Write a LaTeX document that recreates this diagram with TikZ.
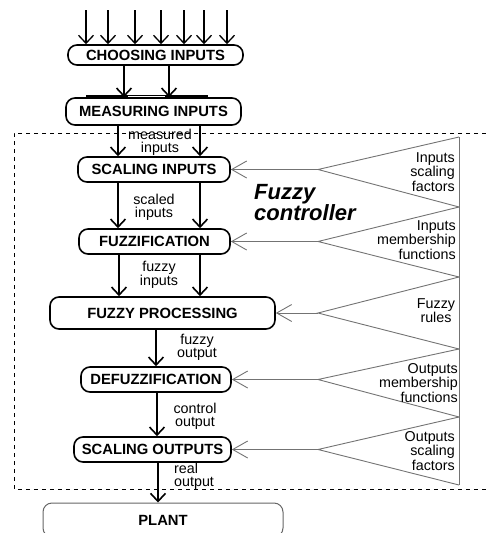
\documentclass[tikz,border=0pt]{standalone}
\usepackage{fontspec}
\setmainfont{Liberation Sans}
\usetikzlibrary{arrows.meta}

\tikzset{
  block/.style = {draw, line width=1.6pt, rounded corners=9pt, inner sep=0pt,
    font=\fontsize{14.8}{16}\selectfont\bfseries},
  flow/.style = {line width=1.6pt, -{Straight Barb[length=8pt,width=15pt]}},
  feed/.style = {draw=black!55, line width=0.9pt, -{Straight Barb[length=15pt,width=17pt]}},
  fan/.style = {draw=black!55, line width=0.9pt},
  note/.style = {align=center, inner sep=0pt, font=\fontsize{14.3}{13}\selectfont}
}

\begin{document}
\begin{tikzpicture}[x=1pt, y=-1pt]
  \useasboundingbox (0,0) rectangle (486,533);
  \clip (0,0) rectangle (486,533);

  \node [block, minimum width=175pt, minimum height=20pt] (choose)   at (155.5,55)  {CHOOSING INPUTS};
  \node [block, minimum width=175pt, minimum height=27pt] (measure)  at (153.5,111.5) {MEASURING INPUTS};
  \node [block, minimum width=152pt, minimum height=25pt] (scalein)  at (154,169.5) {SCALING INPUTS};
  \node [block, minimum width=151pt, minimum height=25pt] (fuzzif)   at (154.5,241.5) {FUZZIFICATION};
  \node [block, minimum width=225pt, minimum height=32pt] (process)  at (162.5,313) {FUZZY PROCESSING};
  \node [block, minimum width=150pt, minimum height=25pt] (defuzz)   at (156,379.5) {DEFUZZIFICATION};
  \node [block, minimum width=157pt, minimum height=25pt] (scaleout) at (152.5,449.5) {SCALING OUTPUTS};
  \node [block, draw=black!60, line width=1pt, minimum width=240pt, minimum height=34pt] (plant) at (163,520) {PLANT};

  \foreach \x in {86,108,135,161,184,204,227} {
    \coordinate (in\x) at (\x,10);
    \draw [flow, line width=1.3pt] (in\x) -- (choose.north -| \x,0);
  }

  \draw [flow] (choose.south -| 124,0) -- (measure.north -| 124,0);
  \draw [flow] (choose.south -| 169,0) -- (measure.north -| 169,0);
  \draw [line width=3pt] (86,96.5) -- (208,96.5);
  \draw [white, line width=1pt] (128,96.5) -- (165,96.5);

  \draw [flow] (measure.south -| 118,0) -- (scalein.north -| 118,0);
  \draw [flow] (measure.south -| 200,0) -- (scalein.north -| 200,0);
  \draw [flow] (scalein.south -| 118,0) -- (fuzzif.north -| 118,0);
  \draw [flow] (scalein.south -| 200,0) -- (fuzzif.north -| 200,0);
  \draw [flow] (fuzzif.south -| 119,0) -- (process.north -| 119,0);
  \draw [flow] (fuzzif.south -| 200,0) -- (process.north -| 200,0);
  \draw [flow] (process.south -| 156,0) -- (defuzz.north -| 156,0);
  \draw [flow] (defuzz.south -| 157,0) -- (scaleout.north -| 157,0);
  \draw [flow] (scaleout.south -| 158,0) -- (plant.north -| 158,0);

  \node [note] (lmeasured) at (160,142.5) {measured\\inputs};
  \node [note] (lscaled) at (154,207) {scaled\\inputs};
  \node [note] (lfuzzyin) at (159,275) {fuzzy\\inputs};
  \node [note] (lfuzzyout) at (197,347.5) {fuzzy\\output};
  \node [note] (lcontrol) at (195,416) {control\\output};
  \node [note, align=left, anchor=west] (lreal) at (174,476) {real\\output};

  \node [align=left, anchor=west, inner sep=0pt,
    font=\fontsize{22}{21}\selectfont\bfseries\itshape] (ctrl) at (254,203) {Fuzzy\\controller};

  \coordinate (b0) at (459,137);
  \coordinate (b1) at (459,207);
  \coordinate (b2) at (459,277);
  \coordinate (b3) at (459,349);
  \coordinate (b4) at (459,417);
  \coordinate (b5) at (459,485);
  \draw [fan] (b0) -- (b5);
  \draw [fan] (b0) -- (scalein.east -| 318,0) coordinate (a1) -- (b1);
  \draw [fan] (b1) -- (fuzzif.east -| 318,0) coordinate (a2) -- (b2);
  \draw [fan] (b2) -- (process.east -| 318,0) coordinate (a3) -- (b3);
  \draw [fan] (b3) -- (defuzz.east -| 318,0) coordinate (a4) -- (b4);
  \draw [fan] (b4) -- (scaleout.east -| 318,0) coordinate (a5) -- (b5);
  \draw [feed] (a1) -- (scalein.east);
  \draw [feed] (a2) -- (fuzzif.east);
  \draw [feed] (a3) -- (process.east);
  \draw [feed] (a4) -- (defuzz.east);
  \draw [feed] (a5) -- (scaleout.east);

  \node [note, align=right, anchor=east] (tinscale) at (455,172) {Inputs\\scaling\\factors};
  \node [note, align=right, anchor=east] (tinmember) at (456,240) {Inputs\\membership\\functions};
  \node [note] (trules) at (436,310.5) {Fuzzy\\rules};
  \node [note, align=right, anchor=east] (toutmember) at (458,383) {Outputs\\membership\\functions};
  \node [note, align=right, anchor=east, font=\fontsize{14.3}{14.5}\selectfont] (toutscale) at (455,451) {Outputs\\scaling\\factors};

  \draw [line width=0.8pt, dash pattern=on 4pt off 4pt] (486,133) -- (14,133) -- (14,489) -- (486,489);
\end{tikzpicture}
\end{document}
